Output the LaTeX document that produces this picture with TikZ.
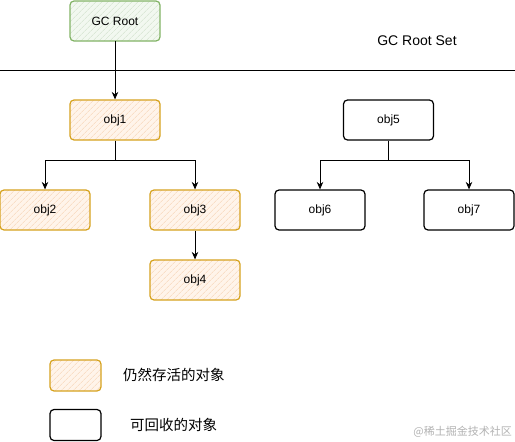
\documentclass[tikz,border=0pt]{standalone}
\usepackage{fontspec}
\setmainfont{Liberation Sans}
\newfontfamily\cjk{Noto Sans CJK SC}
\usetikzlibrary{patterns.meta,arrows.meta}
\definecolor{liveBorder}{HTML}{D6A21E}
\definecolor{liveFill}{HTML}{FFF4EA}
\definecolor{liveHatch}{HTML}{F6D3B4}
\definecolor{rootBorder}{HTML}{82B366}
\definecolor{rootFill}{HTML}{F2F8F0}
\definecolor{rootHatch}{HTML}{D0E0CA}
\tikzset{
  x=1pt,y=-1pt,
  objbox/.style={draw, rounded corners=4pt, line width=1.2pt, minimum width=90pt, minimum height=40pt, inner sep=0pt, font=\fontsize{12}{14}\selectfont},
  livebox/.style={objbox, draw=liveBorder, preaction={fill=liveFill}, pattern={Lines[angle=45,distance=4pt,line width=0.6pt]}, pattern color=liveHatch},
  rootbox/.style={objbox, draw=rootBorder, preaction={fill=rootFill}, pattern={Lines[angle=45,distance=4pt,line width=0.6pt]}, pattern color=rootHatch},
  deadbox/.style={objbox, draw=black, fill=white},
  conn/.style={draw=black, line width=0.8pt, -{Stealth[length=7.5pt,width=6.5pt]}},
  legendbox/.style={objbox, minimum width=51pt, minimum height=31pt},
  legendtxt/.style={font=\cjk\fontsize{14.5}{16}\selectfont, anchor=west, inner sep=0pt}
}
\begin{document}
\begin{tikzpicture}
\useasboundingbox (0,0) rectangle (515,442);
\node[rootbox] (gc) at (115,21) {GC Root};
\node[font=\fontsize{14}{16}\selectfont] (set) at (417,41) {GC Root Set};
\coordinate (lineL) at (0,70);
\coordinate (lineR) at (515,70);
\draw[line width=0.8pt] (lineL) -- (lineR);

\node[livebox] (o1) at (115,120) {obj1};
\node[livebox] (o2) at (45,210) {obj2};
\node[livebox] (o3) at (195,210) {obj3};
\node[livebox] (o4) at (195,280) {obj4};

\node[deadbox] (o5) at (388.5,120) {obj5};
\node[deadbox] (o6) at (320,210) {obj6};
\node[deadbox] (o7) at (469,210) {obj7};

\draw[conn] (gc.south) -- (o1.north);
\draw[conn] (o1.south) |- (45,160) -- (o2.north);
\draw[conn] (o1.south) |- (195,160) -- (o3.north);
\draw[conn] (o3.south) -- (o4.north);
\draw[conn] (o5.south) |- (320,160) -- (o6.north);
\draw[conn] (o5.south) |- (469,160) -- (o7.north);

\node[livebox, legendbox] (l1) at (75.5,375.5) {};
\node[legendtxt] (l1t) at (123,375) {仍然存活的对象};
\node[deadbox, legendbox] (l2) at (75.5,425) {};
\node[legendtxt] (l2t) at (130,425) {可回收的对象};

\node[font=\cjk\fontsize{11}{13}\selectfont, text=black!30, anchor=east, inner sep=0pt] (wm) at (512,432) {@稀土掘金技术社区};
\end{tikzpicture}
\end{document}
